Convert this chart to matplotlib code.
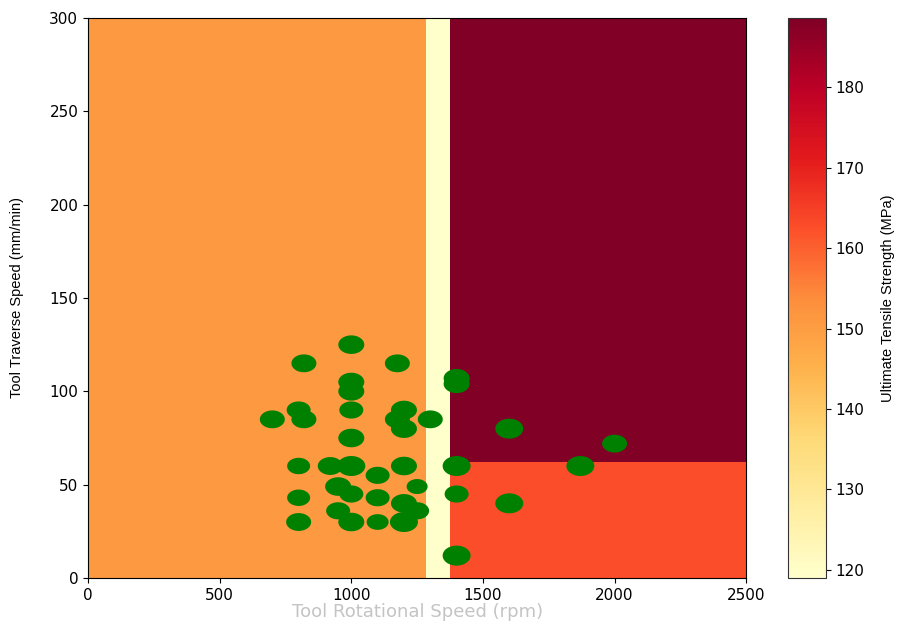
import numpy as np
import matplotlib
matplotlib.use('Agg')
import matplotlib.pyplot as plt
from matplotlib.path import Path

# decision regions (tree prediction of UTS)
x_edges = [0, 1284, 1375, 2500]
y_edges = [0, 62, 300]
uts_pred = [[151, 119, 162.5],
            [151, 119, 188.6]]

# experiments
rpm = [1000, 820, 1175, 1000, 1000, 1400, 1400, 700, 800, 820, 1000, 1200, 1175,
       1200, 1300, 1000, 1600, 2000, 800, 920, 1000, 1200, 1100, 1400, 1870, 950,
       1000, 1250, 800, 1100, 1200, 1400, 1600, 950, 1250, 800, 1000, 1100, 1200, 1400]
speed = [125, 115, 115, 105, 100, 107, 104, 85, 90, 85, 90, 90, 85,
         80, 85, 75, 80, 72, 60, 60, 60, 60, 55, 60, 60, 49,
         45, 49, 43, 43, 40, 45, 40, 36, 36, 30, 30, 30, 30, 12]
dot_w = [26, 25, 25, 26, 26, 26, 26, 25, 24, 25, 24, 26, 25,
         26, 25, 26, 28, 25, 23, 25, 28, 26, 24, 28, 28, 26,
         24, 21, 23, 24, 26, 24, 28, 24, 24, 25, 26, 22, 28, 28]

fig = plt.figure(figsize=(8.98, 6.24), dpi=100)
ax = fig.add_axes([0.098, 0.0737, 0.733, 0.8975])
cax = fig.add_axes([0.8775, 0.0737, 0.0423, 0.8975])

mesh = ax.pcolormesh(x_edges, y_edges, np.array(uts_pred), cmap='YlOrRd',
                     vmin=119, vmax=188.6, shading='flat')

# image was stretched sideways, so dots come out as ellipses
t = np.linspace(0, 2 * np.pi, 60)
ell = Path(np.column_stack([np.cos(t), np.sin(t) / 1.4]), closed=True)
sizes = [(w * 0.72) ** 2 for w in dot_w]
ax.scatter(rpm, speed, s=sizes, c='green', marker=ell, linewidths=0, zorder=3)

ax.set_xlim(0, 2500)
ax.set_ylim(0, 300)
ax.set_xticks([0, 500, 1000, 1500, 2000, 2500])
ax.tick_params(labelsize=11)

ax.set_xlabel('Tool Rotational Speed (rpm)', color='#c4c4c4', fontsize=13, labelpad=0)
ax.set_ylabel('Tool Traverse Speed (mm/min)', family='Liberation Sans', fontsize=10.5, labelpad=18)

cb = fig.colorbar(mesh, cax=cax)
cb.set_ticks([120, 130, 140, 150, 160, 170, 180])
cb.ax.tick_params(labelsize=11)
cb.outline.set_edgecolor('#333333')
cb.set_label('Ultimate Tensile Strength (MPa)', family='Liberation Sans', fontsize=10.5, labelpad=12)

fig.savefig('out.png', dpi=100)
